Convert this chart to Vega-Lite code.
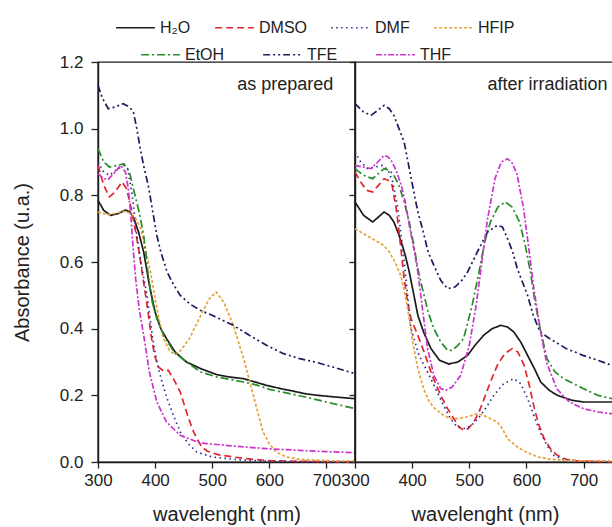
{
  "$schema": "https://vega.github.io/schema/vega-lite/v6.json",
  "background": "white",
  "padding": {"left": 11, "top": 4, "right": 0, "bottom": 0},
  "spacing": 0,
  "bounds": "flush",
  "config": {
    "font": "Liberation Sans",
    "view": {"stroke": "#1a1a1a", "strokeWidth": 1.4},
    "axis": {"labelFontSize": 17, "labelColor": "#222", "titleFontSize": 20, "titleFontWeight": "normal", "titleColor": "#222", "tickColor": "#222", "domainColor": "#1a1a1a", "domainWidth": 1.4, "tickWidth": 1.3, "grid": false, "labelFlush": false, "labelOverlap": false},
    "legend": {"labelFontSize": 16, "labelColor": "#222"},
    "line": {"strokeWidth": 1.7, "strokeCap": "butt"}
  },
  "datasets": {
    "spectra": [
{"panel":"prepared","solvent":"H₂O","wl":300,"A":0.785},{"panel":"prepared","solvent":"H₂O","wl":310,"A":0.755},{"panel":"prepared","solvent":"H₂O","wl":322,"A":0.74},{"panel":"prepared","solvent":"H₂O","wl":335,"A":0.745},{"panel":"prepared","solvent":"H₂O","wl":348,"A":0.756},{"panel":"prepared","solvent":"H₂O","wl":356,"A":0.75},{"panel":"prepared","solvent":"H₂O","wl":363,"A":0.73},{"panel":"prepared","solvent":"H₂O","wl":371,"A":0.69},{"panel":"prepared","solvent":"H₂O","wl":380,"A":0.63},{"panel":"prepared","solvent":"H₂O","wl":390,"A":0.53},{"panel":"prepared","solvent":"H₂O","wl":400,"A":0.45},{"panel":"prepared","solvent":"H₂O","wl":410,"A":0.40},{"panel":"prepared","solvent":"H₂O","wl":420,"A":0.37},{"panel":"prepared","solvent":"H₂O","wl":435,"A":0.33},{"panel":"prepared","solvent":"H₂O","wl":455,"A":0.30},{"panel":"prepared","solvent":"H₂O","wl":480,"A":0.28},{"panel":"prepared","solvent":"H₂O","wl":508,"A":0.262},{"panel":"prepared","solvent":"H₂O","wl":530,"A":0.255},{"panel":"prepared","solvent":"H₂O","wl":555,"A":0.25},{"panel":"prepared","solvent":"H₂O","wl":575,"A":0.24},{"panel":"prepared","solvent":"H₂O","wl":595,"A":0.23},{"panel":"prepared","solvent":"H₂O","wl":620,"A":0.22},{"panel":"prepared","solvent":"H₂O","wl":641,"A":0.213},{"panel":"prepared","solvent":"H₂O","wl":662,"A":0.205},{"panel":"prepared","solvent":"H₂O","wl":685,"A":0.20},{"panel":"prepared","solvent":"H₂O","wl":715,"A":0.195},{"panel":"prepared","solvent":"H₂O","wl":750,"A":0.19},
{"panel":"prepared","solvent":"DMSO","wl":300,"A":0.89},{"panel":"prepared","solvent":"DMSO","wl":310,"A":0.83},{"panel":"prepared","solvent":"DMSO","wl":320,"A":0.795},{"panel":"prepared","solvent":"DMSO","wl":330,"A":0.81},{"panel":"prepared","solvent":"DMSO","wl":342,"A":0.84},{"panel":"prepared","solvent":"DMSO","wl":350,"A":0.82},{"panel":"prepared","solvent":"DMSO","wl":357,"A":0.77},{"panel":"prepared","solvent":"DMSO","wl":365,"A":0.70},{"panel":"prepared","solvent":"DMSO","wl":371,"A":0.64},{"panel":"prepared","solvent":"DMSO","wl":378,"A":0.56},{"panel":"prepared","solvent":"DMSO","wl":386,"A":0.47},{"panel":"prepared","solvent":"DMSO","wl":393,"A":0.38},{"panel":"prepared","solvent":"DMSO","wl":399,"A":0.32},{"panel":"prepared","solvent":"DMSO","wl":406,"A":0.285},{"panel":"prepared","solvent":"DMSO","wl":415,"A":0.272},{"panel":"prepared","solvent":"DMSO","wl":423,"A":0.275},{"panel":"prepared","solvent":"DMSO","wl":432,"A":0.25},{"panel":"prepared","solvent":"DMSO","wl":444,"A":0.21},{"panel":"prepared","solvent":"DMSO","wl":455,"A":0.15},{"panel":"prepared","solvent":"DMSO","wl":465,"A":0.10},{"panel":"prepared","solvent":"DMSO","wl":473,"A":0.07},{"panel":"prepared","solvent":"DMSO","wl":482,"A":0.045},{"panel":"prepared","solvent":"DMSO","wl":491,"A":0.033},{"panel":"prepared","solvent":"DMSO","wl":510,"A":0.022},{"panel":"prepared","solvent":"DMSO","wl":537,"A":0.015},{"panel":"prepared","solvent":"DMSO","wl":570,"A":0.008},{"panel":"prepared","solvent":"DMSO","wl":600,"A":0.004},{"panel":"prepared","solvent":"DMSO","wl":650,"A":0.002},{"panel":"prepared","solvent":"DMSO","wl":750,"A":0.0},
{"panel":"prepared","solvent":"DMF","wl":300,"A":0.90},{"panel":"prepared","solvent":"DMF","wl":310,"A":0.87},{"panel":"prepared","solvent":"DMF","wl":320,"A":0.86},{"panel":"prepared","solvent":"DMF","wl":335,"A":0.88},{"panel":"prepared","solvent":"DMF","wl":345,"A":0.89},{"panel":"prepared","solvent":"DMF","wl":352,"A":0.88},{"panel":"prepared","solvent":"DMF","wl":360,"A":0.80},{"panel":"prepared","solvent":"DMF","wl":368,"A":0.68},{"panel":"prepared","solvent":"DMF","wl":377,"A":0.58},{"panel":"prepared","solvent":"DMF","wl":386,"A":0.50},{"panel":"prepared","solvent":"DMF","wl":395,"A":0.38},{"panel":"prepared","solvent":"DMF","wl":403,"A":0.30},{"panel":"prepared","solvent":"DMF","wl":412,"A":0.24},{"panel":"prepared","solvent":"DMF","wl":421,"A":0.19},{"panel":"prepared","solvent":"DMF","wl":432,"A":0.14},{"panel":"prepared","solvent":"DMF","wl":444,"A":0.09},{"panel":"prepared","solvent":"DMF","wl":458,"A":0.055},{"panel":"prepared","solvent":"DMF","wl":473,"A":0.03},{"panel":"prepared","solvent":"DMF","wl":500,"A":0.015},{"panel":"prepared","solvent":"DMF","wl":550,"A":0.006},{"panel":"prepared","solvent":"DMF","wl":600,"A":0.002},{"panel":"prepared","solvent":"DMF","wl":750,"A":0.0},
{"panel":"prepared","solvent":"HFIP","wl":300,"A":0.75},{"panel":"prepared","solvent":"HFIP","wl":310,"A":0.745},{"panel":"prepared","solvent":"HFIP","wl":320,"A":0.742},{"panel":"prepared","solvent":"HFIP","wl":335,"A":0.748},{"panel":"prepared","solvent":"HFIP","wl":348,"A":0.752},{"panel":"prepared","solvent":"HFIP","wl":358,"A":0.745},{"panel":"prepared","solvent":"HFIP","wl":366,"A":0.73},{"panel":"prepared","solvent":"HFIP","wl":375,"A":0.70},{"panel":"prepared","solvent":"HFIP","wl":383,"A":0.64},{"panel":"prepared","solvent":"HFIP","wl":392,"A":0.57},{"panel":"prepared","solvent":"HFIP","wl":400,"A":0.49},{"panel":"prepared","solvent":"HFIP","wl":408,"A":0.42},{"panel":"prepared","solvent":"HFIP","wl":415,"A":0.37},{"panel":"prepared","solvent":"HFIP","wl":425,"A":0.335},{"panel":"prepared","solvent":"HFIP","wl":435,"A":0.322},{"panel":"prepared","solvent":"HFIP","wl":445,"A":0.335},{"panel":"prepared","solvent":"HFIP","wl":460,"A":0.37},{"panel":"prepared","solvent":"HFIP","wl":480,"A":0.44},{"panel":"prepared","solvent":"HFIP","wl":495,"A":0.49},{"panel":"prepared","solvent":"HFIP","wl":507,"A":0.51},{"panel":"prepared","solvent":"HFIP","wl":520,"A":0.48},{"panel":"prepared","solvent":"HFIP","wl":537,"A":0.41},{"panel":"prepared","solvent":"HFIP","wl":555,"A":0.31},{"panel":"prepared","solvent":"HFIP","wl":572,"A":0.20},{"panel":"prepared","solvent":"HFIP","wl":589,"A":0.09},{"panel":"prepared","solvent":"HFIP","wl":600,"A":0.055},{"panel":"prepared","solvent":"HFIP","wl":612,"A":0.03},{"panel":"prepared","solvent":"HFIP","wl":630,"A":0.015},{"panel":"prepared","solvent":"HFIP","wl":653,"A":0.008},{"panel":"prepared","solvent":"HFIP","wl":700,"A":0.004},{"panel":"prepared","solvent":"HFIP","wl":750,"A":0.003},
{"panel":"prepared","solvent":"EtOH","wl":300,"A":0.94},{"panel":"prepared","solvent":"EtOH","wl":310,"A":0.90},{"panel":"prepared","solvent":"EtOH","wl":320,"A":0.885},{"panel":"prepared","solvent":"EtOH","wl":335,"A":0.89},{"panel":"prepared","solvent":"EtOH","wl":345,"A":0.895},{"panel":"prepared","solvent":"EtOH","wl":355,"A":0.87},{"panel":"prepared","solvent":"EtOH","wl":362,"A":0.82},{"panel":"prepared","solvent":"EtOH","wl":372,"A":0.75},{"panel":"prepared","solvent":"EtOH","wl":380,"A":0.68},{"panel":"prepared","solvent":"EtOH","wl":388,"A":0.56},{"panel":"prepared","solvent":"EtOH","wl":395,"A":0.48},{"panel":"prepared","solvent":"EtOH","wl":403,"A":0.43},{"panel":"prepared","solvent":"EtOH","wl":415,"A":0.38},{"panel":"prepared","solvent":"EtOH","wl":433,"A":0.33},{"panel":"prepared","solvent":"EtOH","wl":455,"A":0.30},{"panel":"prepared","solvent":"EtOH","wl":480,"A":0.27},{"panel":"prepared","solvent":"EtOH","wl":508,"A":0.255},{"panel":"prepared","solvent":"EtOH","wl":530,"A":0.248},{"panel":"prepared","solvent":"EtOH","wl":555,"A":0.24},{"panel":"prepared","solvent":"EtOH","wl":580,"A":0.23},{"panel":"prepared","solvent":"EtOH","wl":600,"A":0.218},{"panel":"prepared","solvent":"EtOH","wl":650,"A":0.20},{"panel":"prepared","solvent":"EtOH","wl":700,"A":0.18},{"panel":"prepared","solvent":"EtOH","wl":750,"A":0.16},
{"panel":"prepared","solvent":"TFE","wl":300,"A":1.13},{"panel":"prepared","solvent":"TFE","wl":308,"A":1.09},{"panel":"prepared","solvent":"TFE","wl":318,"A":1.06},{"panel":"prepared","solvent":"TFE","wl":330,"A":1.065},{"panel":"prepared","solvent":"TFE","wl":344,"A":1.075},{"panel":"prepared","solvent":"TFE","wl":355,"A":1.065},{"panel":"prepared","solvent":"TFE","wl":362,"A":1.05},{"panel":"prepared","solvent":"TFE","wl":368,"A":1.0},{"panel":"prepared","solvent":"TFE","wl":374,"A":0.94},{"panel":"prepared","solvent":"TFE","wl":381,"A":0.88},{"panel":"prepared","solvent":"TFE","wl":388,"A":0.83},{"panel":"prepared","solvent":"TFE","wl":395,"A":0.76},{"panel":"prepared","solvent":"TFE","wl":403,"A":0.68},{"panel":"prepared","solvent":"TFE","wl":410,"A":0.63},{"panel":"prepared","solvent":"TFE","wl":421,"A":0.57},{"panel":"prepared","solvent":"TFE","wl":433,"A":0.53},{"panel":"prepared","solvent":"TFE","wl":444,"A":0.50},{"panel":"prepared","solvent":"TFE","wl":460,"A":0.475},{"panel":"prepared","solvent":"TFE","wl":479,"A":0.455},{"panel":"prepared","solvent":"TFE","wl":500,"A":0.44},{"panel":"prepared","solvent":"TFE","wl":537,"A":0.41},{"panel":"prepared","solvent":"TFE","wl":565,"A":0.38},{"panel":"prepared","solvent":"TFE","wl":595,"A":0.35},{"panel":"prepared","solvent":"TFE","wl":625,"A":0.325},{"panel":"prepared","solvent":"TFE","wl":653,"A":0.31},{"panel":"prepared","solvent":"TFE","wl":680,"A":0.30},{"panel":"prepared","solvent":"TFE","wl":711,"A":0.285},{"panel":"prepared","solvent":"TFE","wl":750,"A":0.265},
{"panel":"prepared","solvent":"THF","wl":300,"A":0.865},{"panel":"prepared","solvent":"THF","wl":310,"A":0.85},{"panel":"prepared","solvent":"THF","wl":318,"A":0.848},{"panel":"prepared","solvent":"THF","wl":330,"A":0.87},{"panel":"prepared","solvent":"THF","wl":340,"A":0.89},{"panel":"prepared","solvent":"THF","wl":348,"A":0.87},{"panel":"prepared","solvent":"THF","wl":353,"A":0.82},{"panel":"prepared","solvent":"THF","wl":357,"A":0.75},{"panel":"prepared","solvent":"THF","wl":362,"A":0.63},{"panel":"prepared","solvent":"THF","wl":366,"A":0.55},{"panel":"prepared","solvent":"THF","wl":372,"A":0.46},{"panel":"prepared","solvent":"THF","wl":380,"A":0.38},{"panel":"prepared","solvent":"THF","wl":390,"A":0.27},{"panel":"prepared","solvent":"THF","wl":403,"A":0.18},{"panel":"prepared","solvent":"THF","wl":420,"A":0.12},{"panel":"prepared","solvent":"THF","wl":444,"A":0.08},{"panel":"prepared","solvent":"THF","wl":479,"A":0.057},{"panel":"prepared","solvent":"THF","wl":537,"A":0.048},{"panel":"prepared","solvent":"THF","wl":595,"A":0.04},{"panel":"prepared","solvent":"THF","wl":653,"A":0.035},{"panel":"prepared","solvent":"THF","wl":700,"A":0.031},{"panel":"prepared","solvent":"THF","wl":750,"A":0.028},
{"panel":"irradiated","solvent":"H₂O","wl":300,"A":0.78},{"panel":"irradiated","solvent":"H₂O","wl":315,"A":0.74},{"panel":"irradiated","solvent":"H₂O","wl":331,"A":0.72},{"panel":"irradiated","solvent":"H₂O","wl":341,"A":0.735},{"panel":"irradiated","solvent":"H₂O","wl":351,"A":0.75},{"panel":"irradiated","solvent":"H₂O","wl":360,"A":0.74},{"panel":"irradiated","solvent":"H₂O","wl":368,"A":0.72},{"panel":"irradiated","solvent":"H₂O","wl":375,"A":0.69},{"panel":"irradiated","solvent":"H₂O","wl":381,"A":0.66},{"panel":"irradiated","solvent":"H₂O","wl":388,"A":0.62},{"panel":"irradiated","solvent":"H₂O","wl":395,"A":0.57},{"panel":"irradiated","solvent":"H₂O","wl":402,"A":0.51},{"panel":"irradiated","solvent":"H₂O","wl":410,"A":0.44},{"panel":"irradiated","solvent":"H₂O","wl":420,"A":0.39},{"panel":"irradiated","solvent":"H₂O","wl":433,"A":0.34},{"panel":"irradiated","solvent":"H₂O","wl":448,"A":0.305},{"panel":"irradiated","solvent":"H₂O","wl":464,"A":0.294},{"panel":"irradiated","solvent":"H₂O","wl":480,"A":0.30},{"panel":"irradiated","solvent":"H₂O","wl":497,"A":0.32},{"panel":"irradiated","solvent":"H₂O","wl":510,"A":0.35},{"panel":"irradiated","solvent":"H₂O","wl":525,"A":0.38},{"panel":"irradiated","solvent":"H₂O","wl":540,"A":0.40},{"panel":"irradiated","solvent":"H₂O","wl":555,"A":0.41},{"panel":"irradiated","solvent":"H₂O","wl":567,"A":0.405},{"panel":"irradiated","solvent":"H₂O","wl":578,"A":0.39},{"panel":"irradiated","solvent":"H₂O","wl":590,"A":0.36},{"panel":"irradiated","solvent":"H₂O","wl":602,"A":0.32},{"panel":"irradiated","solvent":"H₂O","wl":614,"A":0.28},{"panel":"irradiated","solvent":"H₂O","wl":625,"A":0.24},{"panel":"irradiated","solvent":"H₂O","wl":640,"A":0.215},{"panel":"irradiated","solvent":"H₂O","wl":654,"A":0.20},{"panel":"irradiated","solvent":"H₂O","wl":680,"A":0.185},{"panel":"irradiated","solvent":"H₂O","wl":700,"A":0.18},{"panel":"irradiated","solvent":"H₂O","wl":750,"A":0.18},
{"panel":"irradiated","solvent":"DMSO","wl":300,"A":0.87},{"panel":"irradiated","solvent":"DMSO","wl":310,"A":0.84},{"panel":"irradiated","solvent":"DMSO","wl":320,"A":0.815},{"panel":"irradiated","solvent":"DMSO","wl":331,"A":0.81},{"panel":"irradiated","solvent":"DMSO","wl":341,"A":0.83},{"panel":"irradiated","solvent":"DMSO","wl":351,"A":0.85},{"panel":"irradiated","solvent":"DMSO","wl":358,"A":0.845},{"panel":"irradiated","solvent":"DMSO","wl":365,"A":0.83},{"panel":"irradiated","solvent":"DMSO","wl":373,"A":0.75},{"panel":"irradiated","solvent":"DMSO","wl":381,"A":0.63},{"panel":"irradiated","solvent":"DMSO","wl":386,"A":0.55},{"panel":"irradiated","solvent":"DMSO","wl":392,"A":0.48},{"panel":"irradiated","solvent":"DMSO","wl":398,"A":0.43},{"panel":"irradiated","solvent":"DMSO","wl":410,"A":0.38},{"panel":"irradiated","solvent":"DMSO","wl":421,"A":0.33},{"panel":"irradiated","solvent":"DMSO","wl":435,"A":0.26},{"panel":"irradiated","solvent":"DMSO","wl":450,"A":0.20},{"panel":"irradiated","solvent":"DMSO","wl":462,"A":0.16},{"panel":"irradiated","solvent":"DMSO","wl":473,"A":0.13},{"panel":"irradiated","solvent":"DMSO","wl":482,"A":0.105},{"panel":"irradiated","solvent":"DMSO","wl":490,"A":0.095},{"panel":"irradiated","solvent":"DMSO","wl":498,"A":0.10},{"panel":"irradiated","solvent":"DMSO","wl":508,"A":0.12},{"panel":"irradiated","solvent":"DMSO","wl":517,"A":0.15},{"panel":"irradiated","solvent":"DMSO","wl":526,"A":0.19},{"panel":"irradiated","solvent":"DMSO","wl":537,"A":0.24},{"panel":"irradiated","solvent":"DMSO","wl":549,"A":0.29},{"panel":"irradiated","solvent":"DMSO","wl":562,"A":0.325},{"panel":"irradiated","solvent":"DMSO","wl":575,"A":0.34},{"panel":"irradiated","solvent":"DMSO","wl":585,"A":0.33},{"panel":"irradiated","solvent":"DMSO","wl":596,"A":0.29},{"panel":"irradiated","solvent":"DMSO","wl":605,"A":0.23},{"panel":"irradiated","solvent":"DMSO","wl":614,"A":0.16},{"panel":"irradiated","solvent":"DMSO","wl":622,"A":0.11},{"panel":"irradiated","solvent":"DMSO","wl":631,"A":0.07},{"panel":"irradiated","solvent":"DMSO","wl":642,"A":0.04},{"panel":"irradiated","solvent":"DMSO","wl":654,"A":0.02},{"panel":"irradiated","solvent":"DMSO","wl":670,"A":0.008},{"panel":"irradiated","solvent":"DMSO","wl":690,"A":0.003},{"panel":"irradiated","solvent":"DMSO","wl":750,"A":0.0},
{"panel":"irradiated","solvent":"DMF","wl":300,"A":0.93},{"panel":"irradiated","solvent":"DMF","wl":310,"A":0.90},{"panel":"irradiated","solvent":"DMF","wl":322,"A":0.88},{"panel":"irradiated","solvent":"DMF","wl":335,"A":0.885},{"panel":"irradiated","solvent":"DMF","wl":348,"A":0.89},{"panel":"irradiated","solvent":"DMF","wl":358,"A":0.875},{"panel":"irradiated","solvent":"DMF","wl":366,"A":0.84},{"panel":"irradiated","solvent":"DMF","wl":375,"A":0.76},{"panel":"irradiated","solvent":"DMF","wl":385,"A":0.62},{"panel":"irradiated","solvent":"DMF","wl":392,"A":0.50},{"panel":"irradiated","solvent":"DMF","wl":398,"A":0.40},{"panel":"irradiated","solvent":"DMF","wl":412,"A":0.32},{"panel":"irradiated","solvent":"DMF","wl":427,"A":0.27},{"panel":"irradiated","solvent":"DMF","wl":441,"A":0.22},{"panel":"irradiated","solvent":"DMF","wl":455,"A":0.17},{"panel":"irradiated","solvent":"DMF","wl":467,"A":0.13},{"panel":"irradiated","solvent":"DMF","wl":479,"A":0.105},{"panel":"irradiated","solvent":"DMF","wl":494,"A":0.10},{"panel":"irradiated","solvent":"DMF","wl":507,"A":0.115},{"panel":"irradiated","solvent":"DMF","wl":520,"A":0.14},{"panel":"irradiated","solvent":"DMF","wl":532,"A":0.17},{"panel":"irradiated","solvent":"DMF","wl":543,"A":0.20},{"panel":"irradiated","solvent":"DMF","wl":560,"A":0.235},{"panel":"irradiated","solvent":"DMF","wl":578,"A":0.25},{"panel":"irradiated","solvent":"DMF","wl":590,"A":0.235},{"panel":"irradiated","solvent":"DMF","wl":602,"A":0.19},{"panel":"irradiated","solvent":"DMF","wl":613,"A":0.14},{"panel":"irradiated","solvent":"DMF","wl":624,"A":0.09},{"panel":"irradiated","solvent":"DMF","wl":636,"A":0.05},{"panel":"irradiated","solvent":"DMF","wl":648,"A":0.02},{"panel":"irradiated","solvent":"DMF","wl":665,"A":0.008},{"panel":"irradiated","solvent":"DMF","wl":690,"A":0.003},{"panel":"irradiated","solvent":"DMF","wl":750,"A":0.0},
{"panel":"irradiated","solvent":"HFIP","wl":300,"A":0.70},{"panel":"irradiated","solvent":"HFIP","wl":315,"A":0.685},{"panel":"irradiated","solvent":"HFIP","wl":330,"A":0.67},{"panel":"irradiated","solvent":"HFIP","wl":350,"A":0.65},{"panel":"irradiated","solvent":"HFIP","wl":360,"A":0.63},{"panel":"irradiated","solvent":"HFIP","wl":370,"A":0.60},{"panel":"irradiated","solvent":"HFIP","wl":380,"A":0.56},{"panel":"irradiated","solvent":"HFIP","wl":388,"A":0.50},{"panel":"irradiated","solvent":"HFIP","wl":395,"A":0.43},{"panel":"irradiated","solvent":"HFIP","wl":402,"A":0.35},{"panel":"irradiated","solvent":"HFIP","wl":410,"A":0.28},{"panel":"irradiated","solvent":"HFIP","wl":420,"A":0.22},{"panel":"irradiated","solvent":"HFIP","wl":430,"A":0.18},{"panel":"irradiated","solvent":"HFIP","wl":440,"A":0.16},{"panel":"irradiated","solvent":"HFIP","wl":455,"A":0.14},{"panel":"irradiated","solvent":"HFIP","wl":467,"A":0.13},{"panel":"irradiated","solvent":"HFIP","wl":480,"A":0.13},{"panel":"irradiated","solvent":"HFIP","wl":495,"A":0.135},{"panel":"irradiated","solvent":"HFIP","wl":505,"A":0.14},{"panel":"irradiated","solvent":"HFIP","wl":514,"A":0.145},{"panel":"irradiated","solvent":"HFIP","wl":525,"A":0.14},{"panel":"irradiated","solvent":"HFIP","wl":537,"A":0.13},{"panel":"irradiated","solvent":"HFIP","wl":549,"A":0.12},{"panel":"irradiated","solvent":"HFIP","wl":558,"A":0.10},{"panel":"irradiated","solvent":"HFIP","wl":567,"A":0.07},{"panel":"irradiated","solvent":"HFIP","wl":580,"A":0.05},{"panel":"irradiated","solvent":"HFIP","wl":596,"A":0.033},{"panel":"irradiated","solvent":"HFIP","wl":620,"A":0.015},{"panel":"irradiated","solvent":"HFIP","wl":642,"A":0.008},{"panel":"irradiated","solvent":"HFIP","wl":680,"A":0.004},{"panel":"irradiated","solvent":"HFIP","wl":750,"A":0.003},
{"panel":"irradiated","solvent":"EtOH","wl":300,"A":0.88},{"panel":"irradiated","solvent":"EtOH","wl":315,"A":0.86},{"panel":"irradiated","solvent":"EtOH","wl":331,"A":0.85},{"panel":"irradiated","solvent":"EtOH","wl":341,"A":0.865},{"panel":"irradiated","solvent":"EtOH","wl":351,"A":0.88},{"panel":"irradiated","solvent":"EtOH","wl":360,"A":0.875},{"panel":"irradiated","solvent":"EtOH","wl":368,"A":0.86},{"panel":"irradiated","solvent":"EtOH","wl":377,"A":0.83},{"panel":"irradiated","solvent":"EtOH","wl":386,"A":0.78},{"panel":"irradiated","solvent":"EtOH","wl":395,"A":0.72},{"panel":"irradiated","solvent":"EtOH","wl":403,"A":0.65},{"panel":"irradiated","solvent":"EtOH","wl":410,"A":0.58},{"panel":"irradiated","solvent":"EtOH","wl":418,"A":0.52},{"panel":"irradiated","solvent":"EtOH","wl":428,"A":0.45},{"panel":"irradiated","solvent":"EtOH","wl":438,"A":0.40},{"panel":"irradiated","solvent":"EtOH","wl":450,"A":0.36},{"panel":"irradiated","solvent":"EtOH","wl":462,"A":0.335},{"panel":"irradiated","solvent":"EtOH","wl":470,"A":0.335},{"panel":"irradiated","solvent":"EtOH","wl":480,"A":0.35},{"panel":"irradiated","solvent":"EtOH","wl":490,"A":0.37},{"panel":"irradiated","solvent":"EtOH","wl":505,"A":0.47},{"panel":"irradiated","solvent":"EtOH","wl":517,"A":0.57},{"panel":"irradiated","solvent":"EtOH","wl":527,"A":0.66},{"panel":"irradiated","solvent":"EtOH","wl":537,"A":0.72},{"panel":"irradiated","solvent":"EtOH","wl":550,"A":0.765},{"panel":"irradiated","solvent":"EtOH","wl":563,"A":0.78},{"panel":"irradiated","solvent":"EtOH","wl":575,"A":0.765},{"panel":"irradiated","solvent":"EtOH","wl":588,"A":0.72},{"panel":"irradiated","solvent":"EtOH","wl":598,"A":0.65},{"panel":"irradiated","solvent":"EtOH","wl":607,"A":0.57},{"panel":"irradiated","solvent":"EtOH","wl":615,"A":0.48},{"panel":"irradiated","solvent":"EtOH","wl":624,"A":0.40},{"panel":"irradiated","solvent":"EtOH","wl":636,"A":0.31},{"panel":"irradiated","solvent":"EtOH","wl":650,"A":0.27},{"panel":"irradiated","solvent":"EtOH","wl":665,"A":0.25},{"panel":"irradiated","solvent":"EtOH","wl":700,"A":0.22},{"panel":"irradiated","solvent":"EtOH","wl":725,"A":0.20},{"panel":"irradiated","solvent":"EtOH","wl":750,"A":0.19},
{"panel":"irradiated","solvent":"TFE","wl":300,"A":1.075},{"panel":"irradiated","solvent":"TFE","wl":315,"A":1.05},{"panel":"irradiated","solvent":"TFE","wl":328,"A":1.04},{"panel":"irradiated","solvent":"TFE","wl":340,"A":1.055},{"panel":"irradiated","solvent":"TFE","wl":351,"A":1.07},{"panel":"irradiated","solvent":"TFE","wl":360,"A":1.06},{"panel":"irradiated","solvent":"TFE","wl":368,"A":1.04},{"panel":"irradiated","solvent":"TFE","wl":377,"A":1.0},{"panel":"irradiated","solvent":"TFE","wl":386,"A":0.96},{"panel":"irradiated","solvent":"TFE","wl":395,"A":0.88},{"panel":"irradiated","solvent":"TFE","wl":403,"A":0.81},{"panel":"irradiated","solvent":"TFE","wl":410,"A":0.75},{"panel":"irradiated","solvent":"TFE","wl":418,"A":0.70},{"panel":"irradiated","solvent":"TFE","wl":428,"A":0.63},{"panel":"irradiated","solvent":"TFE","wl":438,"A":0.59},{"panel":"irradiated","solvent":"TFE","wl":450,"A":0.545},{"panel":"irradiated","solvent":"TFE","wl":462,"A":0.52},{"panel":"irradiated","solvent":"TFE","wl":475,"A":0.525},{"panel":"irradiated","solvent":"TFE","wl":487,"A":0.545},{"panel":"irradiated","solvent":"TFE","wl":497,"A":0.57},{"panel":"irradiated","solvent":"TFE","wl":514,"A":0.63},{"panel":"irradiated","solvent":"TFE","wl":532,"A":0.69},{"panel":"irradiated","solvent":"TFE","wl":549,"A":0.71},{"panel":"irradiated","solvent":"TFE","wl":558,"A":0.705},{"panel":"irradiated","solvent":"TFE","wl":567,"A":0.67},{"panel":"irradiated","solvent":"TFE","wl":576,"A":0.63},{"panel":"irradiated","solvent":"TFE","wl":584,"A":0.58},{"panel":"irradiated","solvent":"TFE","wl":593,"A":0.54},{"panel":"irradiated","solvent":"TFE","wl":602,"A":0.50},{"panel":"irradiated","solvent":"TFE","wl":612,"A":0.44},{"panel":"irradiated","solvent":"TFE","wl":624,"A":0.39},{"panel":"irradiated","solvent":"TFE","wl":641,"A":0.37},{"panel":"irradiated","solvent":"TFE","wl":670,"A":0.34},{"panel":"irradiated","solvent":"TFE","wl":699,"A":0.32},{"panel":"irradiated","solvent":"TFE","wl":725,"A":0.305},{"panel":"irradiated","solvent":"TFE","wl":750,"A":0.29},
{"panel":"irradiated","solvent":"THF","wl":300,"A":0.89},{"panel":"irradiated","solvent":"THF","wl":314,"A":0.885},{"panel":"irradiated","solvent":"THF","wl":328,"A":0.88},{"panel":"irradiated","solvent":"THF","wl":340,"A":0.90},{"panel":"irradiated","solvent":"THF","wl":351,"A":0.92},{"panel":"irradiated","solvent":"THF","wl":358,"A":0.915},{"panel":"irradiated","solvent":"THF","wl":365,"A":0.90},{"panel":"irradiated","solvent":"THF","wl":373,"A":0.87},{"panel":"irradiated","solvent":"THF","wl":381,"A":0.83},{"panel":"irradiated","solvent":"THF","wl":388,"A":0.78},{"panel":"irradiated","solvent":"THF","wl":395,"A":0.71},{"panel":"irradiated","solvent":"THF","wl":403,"A":0.64},{"panel":"irradiated","solvent":"THF","wl":410,"A":0.57},{"panel":"irradiated","solvent":"THF","wl":418,"A":0.46},{"panel":"irradiated","solvent":"THF","wl":427,"A":0.34},{"panel":"irradiated","solvent":"THF","wl":438,"A":0.26},{"panel":"irradiated","solvent":"THF","wl":450,"A":0.22},{"panel":"irradiated","solvent":"THF","wl":459,"A":0.215},{"panel":"irradiated","solvent":"THF","wl":470,"A":0.225},{"panel":"irradiated","solvent":"THF","wl":485,"A":0.26},{"panel":"irradiated","solvent":"THF","wl":500,"A":0.35},{"panel":"irradiated","solvent":"THF","wl":512,"A":0.47},{"panel":"irradiated","solvent":"THF","wl":522,"A":0.60},{"panel":"irradiated","solvent":"THF","wl":532,"A":0.73},{"panel":"irradiated","solvent":"THF","wl":545,"A":0.85},{"panel":"irradiated","solvent":"THF","wl":556,"A":0.90},{"panel":"irradiated","solvent":"THF","wl":567,"A":0.91},{"panel":"irradiated","solvent":"THF","wl":576,"A":0.895},{"panel":"irradiated","solvent":"THF","wl":584,"A":0.86},{"panel":"irradiated","solvent":"THF","wl":595,"A":0.76},{"panel":"irradiated","solvent":"THF","wl":605,"A":0.63},{"panel":"irradiated","solvent":"THF","wl":613,"A":0.52},{"panel":"irradiated","solvent":"THF","wl":624,"A":0.40},{"panel":"irradiated","solvent":"THF","wl":635,"A":0.30},{"panel":"irradiated","solvent":"THF","wl":653,"A":0.22},{"panel":"irradiated","solvent":"THF","wl":675,"A":0.18},{"panel":"irradiated","solvent":"THF","wl":700,"A":0.16},{"panel":"irradiated","solvent":"THF","wl":725,"A":0.15},{"panel":"irradiated","solvent":"THF","wl":750,"A":0.145}
    ]
  },
  "hconcat": [
    {
      "width": 257,
      "height": 400,
      "layer": [
        {
          "data": {"name": "spectra"},
          "transform": [{"filter": "datum.panel === 'prepared'"}, {"filter": {"field": "solvent", "oneOf": ["H₂O", "DMSO", "DMF", "HFIP"]}}],
          "mark": {"type": "line"},
          "encoding": {
            "x": {"field": "wl", "type": "quantitative", "scale": {"domain": [300, 750], "nice": false, "zero": false},
              "axis": {"values": [300, 350, 400, 450, 500, 550, 600, 650, 700], "labelExpr": "datum.value % 100 === 0 ? datum.label : ''", "tickSize": {"condition": {"test": "datum.value % 100 === 0", "value": 6}, "value": 3}, "labelPadding": 4, "title": "wavelenght (nm)", "titlePadding": 16}},
            "y": {"field": "A", "type": "quantitative", "scale": {"domain": [0, 1.2], "nice": false},
              "axis": {"values": [0, 0.1, 0.2, 0.3, 0.4, 0.5, 0.6, 0.7, 0.8, 0.9, 1.0, 1.1, 1.2], "labelExpr": "round(datum.value * 10) % 2 === 0 ? format(datum.value, '.1f') : ''", "tickSize": 7, "labelPadding": 8, "title": "Absorbance (u.a.)", "titlePadding": 27}},
            "color": {"field": "solvent", "type": "nominal",
              "scale": {"domain": ["H₂O", "DMSO", "DMF", "HFIP"], "range": ["#1a1a1a", "#e3242b", "#2e2e8f", "#e5a33b"]},
              "legend": {"orient": "none", "legendX": 15, "legendY": -57, "padding": 2, "direction": "horizontal", "columns": 4, "columnPadding": 20, "title": null, "symbolType": "stroke", "symbolSize": 1500, "symbolStrokeWidth": 1.5, "labelOffset": 4, "labelFontSize": 16}},
            "strokeDash": {"field": "solvent", "type": "nominal",
              "scale": {"domain": ["H₂O", "DMSO", "DMF", "HFIP"], "range": [[1, 0], [7, 4], [1.5, 3.5], [3, 2]]},
              "legend": {"orient": "none", "legendX": 15, "legendY": -57, "padding": 2, "direction": "horizontal", "columns": 4, "columnPadding": 20, "title": null, "symbolType": "stroke", "symbolSize": 1500, "symbolStrokeWidth": 1.5, "labelOffset": 4, "labelFontSize": 16}}
          }
        },
        {
          "data": {"name": "spectra"},
          "transform": [{"filter": "datum.panel === 'prepared'"}, {"filter": {"field": "solvent", "oneOf": ["EtOH", "TFE", "THF"]}}],
          "mark": {"type": "line"},
          "encoding": {
            "x": {"field": "wl", "type": "quantitative"},
            "y": {"field": "A", "type": "quantitative"},
            "color": {"field": "solvent", "type": "nominal",
              "scale": {"domain": ["EtOH", "TFE", "THF"], "range": ["#288a28", "#1c1c5e", "#cc33cc"]},
              "legend": {"orient": "none", "legendX": 40, "legendY": -30, "padding": 2, "direction": "horizontal", "columns": 3, "columnPadding": 34, "title": null, "symbolType": "stroke", "symbolSize": 1500, "symbolStrokeWidth": 1.5, "labelOffset": 4, "labelFontSize": 16}},
            "strokeDash": {"field": "solvent", "type": "nominal",
              "scale": {"domain": ["EtOH", "TFE", "THF"], "range": [[8, 3, 2, 3], [7, 3, 2, 3, 2, 3], [6, 2, 2, 2]]},
              "legend": {"orient": "none", "legendX": 40, "legendY": -30, "padding": 2, "direction": "horizontal", "columns": 3, "columnPadding": 34, "title": null, "symbolType": "stroke", "symbolSize": 1500, "symbolStrokeWidth": 1.5, "labelOffset": 4, "labelFontSize": 16}}
          }
        },
        {
          "data": {"values": [{"label": "as prepared"}]},
          "mark": {"type": "text", "align": "right", "baseline": "alphabetic", "fontSize": 18, "color": "#222"},
          "encoding": {
            "x": {"datum": 712, "type": "quantitative"},
            "y": {"datum": 1.117, "type": "quantitative"},
            "text": {"field": "label"}
          }
        }
      ],
      "resolve": {"scale": {"color": "independent", "strokeDash": "independent"}}
    },
    {
      "width": 260,
      "height": 400,
      "layer": [
        {
          "data": {"name": "spectra"},
          "transform": [{"filter": "datum.panel === 'irradiated'"}, {"filter": {"field": "solvent", "oneOf": ["H₂O", "DMSO", "DMF", "HFIP"]}}],
          "mark": {"type": "line"},
          "encoding": {
            "x": {"field": "wl", "type": "quantitative", "scale": {"domain": [300, 755], "nice": false, "zero": false},
              "axis": {"values": [300, 350, 400, 450, 500, 550, 600, 650, 700], "labelExpr": "datum.value % 100 === 0 ? datum.label : ''", "tickSize": {"condition": {"test": "datum.value % 100 === 0", "value": 6}, "value": 3}, "labelPadding": 4, "title": "wavelenght (nm)", "titlePadding": 16}},
            "y": {"field": "A", "type": "quantitative", "scale": {"domain": [0, 1.2], "nice": false},
              "axis": {"values": [0, 0.1, 0.2, 0.3, 0.4, 0.5, 0.6, 0.7, 0.8, 0.9, 1.0, 1.1, 1.2], "labels": false, "tickSize": 6, "title": null}},
            "color": {"field": "solvent", "type": "nominal",
              "scale": {"domain": ["H₂O", "DMSO", "DMF", "HFIP"], "range": ["#1a1a1a", "#e3242b", "#2e2e8f", "#e5a33b"]},
              "legend": null},
            "strokeDash": {"field": "solvent", "type": "nominal",
              "scale": {"domain": ["H₂O", "DMSO", "DMF", "HFIP"], "range": [[1, 0], [7, 4], [1.5, 3.5], [3, 2]]},
              "legend": null}
          }
        },
        {
          "data": {"name": "spectra"},
          "transform": [{"filter": "datum.panel === 'irradiated'"}, {"filter": {"field": "solvent", "oneOf": ["EtOH", "TFE", "THF"]}}],
          "mark": {"type": "line"},
          "encoding": {
            "x": {"field": "wl", "type": "quantitative"},
            "y": {"field": "A", "type": "quantitative"},
            "color": {"field": "solvent", "type": "nominal",
              "scale": {"domain": ["EtOH", "TFE", "THF"], "range": ["#288a28", "#1c1c5e", "#cc33cc"]},
              "legend": null},
            "strokeDash": {"field": "solvent", "type": "nominal",
              "scale": {"domain": ["EtOH", "TFE", "THF"], "range": [[8, 3, 2, 3], [7, 3, 2, 3, 2, 3], [6, 2, 2, 2]]},
              "legend": null}
          }
        },
        {
          "data": {"values": [{"label": "after irradiation"}]},
          "mark": {"type": "text", "align": "right", "baseline": "alphabetic", "fontSize": 18, "color": "#222"},
          "encoding": {
            "x": {"datum": 742, "type": "quantitative"},
            "y": {"datum": 1.117, "type": "quantitative"},
            "text": {"field": "label"}
          }
        }
      ],
      "resolve": {"scale": {"color": "independent", "strokeDash": "independent"}}
    }
  ]
}
